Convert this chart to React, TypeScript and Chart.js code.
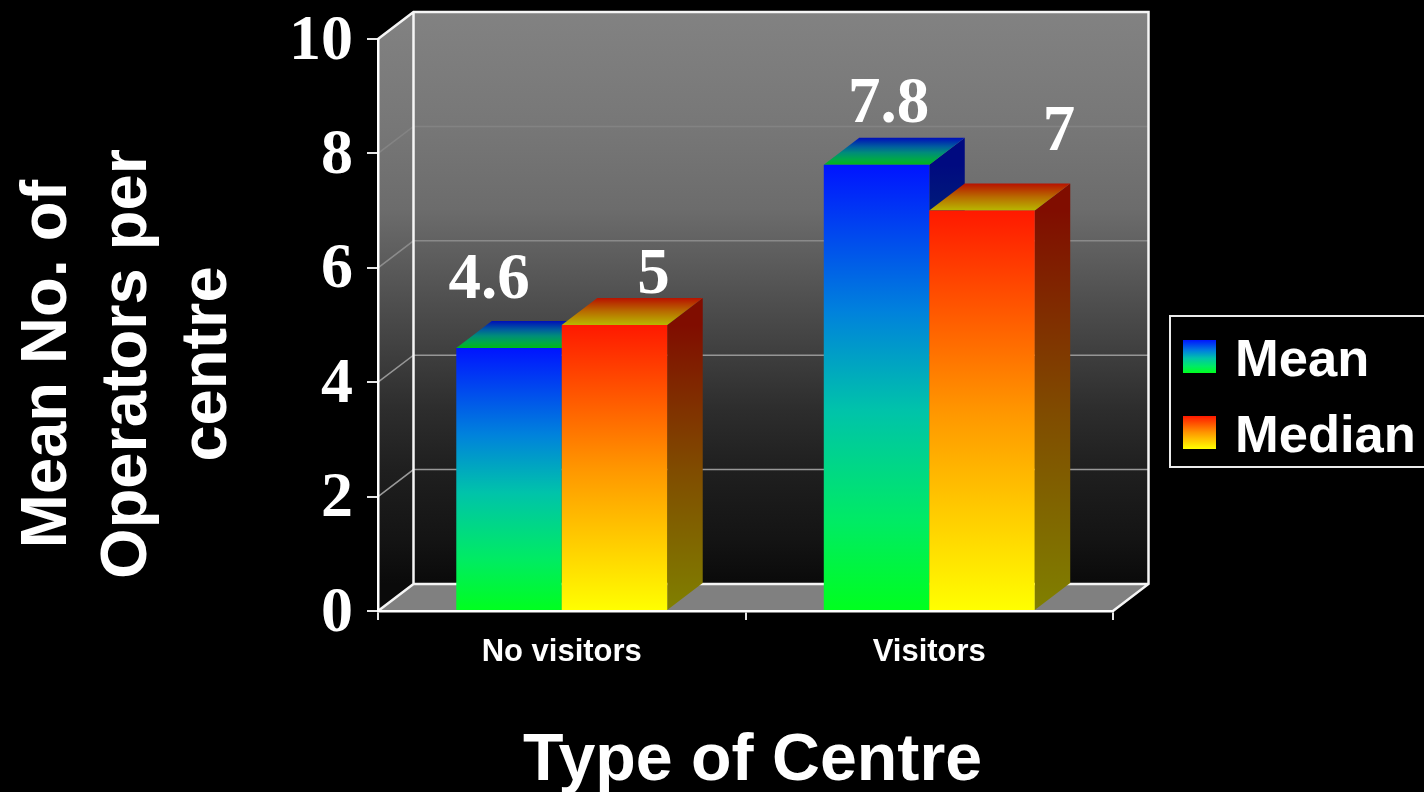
import React, { useEffect, useRef } from "react";
import { Chart, registerables } from "chart.js";

Chart.register(...registerables);

const categories = ["No visitors", "Visitors"];
const meanValues = [4.6, 7.8];
const medianValues = [5, 7];
const yTitleLines = ["Mean No. of", "Operators per", "centre"];
const xTitle = "Type of Centre";

const SANS = '"Liberation Sans", Arial, sans-serif';
const SERIF = '"Liberation Serif", "Times New Roman", serif';
const DX = 35.5;
const DY = 27;

// Hand-placed offset of each value label from its bar: [dx from bar centre, dy from bar top]
const labelOffsets = [
  [[-20, -50], [39, -32]],
  [[12, -43], [77, -61]],
];

type Stops = [number, number, number, number][];
const meanStops: Stops = [
  [0, 0, 20, 255],
  [0.33, 0, 130, 220],
  [0.55, 0, 195, 170],
  [0.8, 0, 235, 100],
  [1, 0, 255, 30],
];
const medianStops: Stops = [
  [0, 255, 25, 0],
  [0.5, 255, 150, 0],
  [1, 255, 255, 0],
];
// Back wall shade down its height: [fraction, grey]
const wallStops: [number, number][] = [
  [0, 130],
  [0.2, 119],
  [0.345, 108],
  [0.5, 80],
  [0.6, 62],
  [0.695, 45],
  [0.8, 31],
  [0.92, 20],
  [1, 10],
];
const rgb = (r: number, g: number, b: number, k = 1) =>
  `rgb(${Math.round(r * k)},${Math.round(g * k)},${Math.round(b * k)})`;

function vGrad(ctx: CanvasRenderingContext2D, y0: number, y1: number, stops: Stops, k = 1) {
  const g = ctx.createLinearGradient(0, y0, 0, y1);
  stops.forEach(([p, r, gr, b]) => g.addColorStop(p, rgb(r, gr, b, k)));
  return g;
}

function barFill(stops: Stops) {
  return (c: any) => {
    const { chart, raw } = c;
    const y = chart.scales.y;
    const fallback = rgb(stops[0][1], stops[0][2], stops[0][3]);
    if (!y || raw == null) return fallback;
    const p0 = y.getPixelForValue(raw);
    const p1 = y.getPixelForValue(0);
    if (!Number.isFinite(p0) || !Number.isFinite(p1)) return fallback;
    return vGrad(chart.ctx, p0, p1, stops);
  };
}

const stopsByDataset = [meanStops, medianStops];

function drawFaces(chart: any, index: number) {
  const { ctx } = chart;
  const stops = stopsByDataset[index];
  chart.getDatasetMeta(index).data.forEach((bar: any) => {
    const { x, y, base, width } = bar.getProps(["x", "y", "base", "width"], true);
    const L = x - width / 2;
    const R = x + width / 2;
    ctx.fillStyle = vGrad(ctx, y, base, stops, 0.5);
    ctx.beginPath();
    ctx.moveTo(R, y);
    ctx.lineTo(R + DX, y - DY);
    ctx.lineTo(R + DX, base - DY);
    ctx.lineTo(R, base);
    ctx.closePath();
    ctx.fill();
    ctx.fillStyle = vGrad(ctx, y - DY, y, stops, 0.72);
    ctx.beginPath();
    ctx.moveTo(L, y);
    ctx.lineTo(L + DX, y - DY);
    ctx.lineTo(R + DX, y - DY);
    ctx.lineTo(R, y);
    ctx.closePath();
    ctx.fill();
  });
}

const scene = {
  id: "scene",
  beforeDraw(chart: any) {
    const { ctx, chartArea: a, scales } = chart;
    const { left: l, right: r, top: t, bottom: b } = a;
    ctx.save();
    ctx.fillStyle = "#000";
    ctx.fillRect(0, 0, chart.width, chart.height);

    const wall = ctx.createLinearGradient(0, t - DY, 0, b - DY);
    wallStops.forEach(([p, v]) => wall.addColorStop(p, rgb(v, v, v)));
    ctx.fillStyle = wall;
    ctx.beginPath();
    ctx.moveTo(l, t);
    ctx.lineTo(l + DX, t - DY);
    ctx.lineTo(r + DX, t - DY);
    ctx.lineTo(r + DX, b - DY);
    ctx.lineTo(l + DX, b - DY);
    ctx.lineTo(l, b);
    ctx.closePath();
    ctx.fill();

    ctx.fillStyle = "rgb(128,128,128)";
    ctx.beginPath();
    ctx.moveTo(l, b);
    ctx.lineTo(l + DX, b - DY);
    ctx.lineTo(r + DX, b - DY);
    ctx.lineTo(r, b);
    ctx.closePath();
    ctx.fill();

    const gridStroke = ctx.createLinearGradient(0, t, 0, b);
    gridStroke.addColorStop(0, "rgb(128,128,128)");
    gridStroke.addColorStop(0.3, "rgb(134,134,134)");
    gridStroke.addColorStop(0.55, "rgb(150,150,150)");
    gridStroke.addColorStop(1, "rgb(155,155,155)");
    ctx.strokeStyle = gridStroke;
    ctx.lineWidth = 1.5;
    scales.y.ticks.forEach((tk: any) => {
      if (tk.value === 0 || tk.value === 10) return;
      const y = scales.y.getPixelForValue(tk.value);
      ctx.beginPath();
      ctx.moveTo(l, y);
      ctx.lineTo(l + DX, y - DY);
      ctx.lineTo(r + DX, y - DY);
      ctx.stroke();
    });

    ctx.strokeStyle = "rgb(245,245,245)";
    ctx.lineWidth = 2.5;
    ctx.beginPath();
    ctx.moveTo(l, t);
    ctx.lineTo(l + DX, t - DY);
    ctx.lineTo(r + DX, t - DY);
    ctx.lineTo(r + DX, b - DY);
    ctx.lineTo(r, b);
    ctx.moveTo(l + DX, t - DY);
    ctx.lineTo(l + DX, b - DY);
    ctx.lineTo(r + DX, b - DY);
    ctx.moveTo(l + DX, b - DY);
    ctx.lineTo(l, b);
    ctx.stroke();
    ctx.restore();
  },
  beforeDatasetsDraw(chart: any) {
    const { ctx } = chart;
    ctx.save();
    // Mean first, Median over it, each with its own 3D faces behind its front
    chart.data.datasets.forEach((_: any, i: number) => {
      drawFaces(chart, i);
      chart.getDatasetMeta(i).controller.draw();
    });

    ctx.fillStyle = "#fff";
    ctx.textBaseline = "alphabetic";
    ctx.textAlign = "center";
    ctx.font = `bold 65px ${SERIF}`;
    chart.data.datasets.forEach((ds: any, i: number) => {
      chart.getDatasetMeta(i).data.forEach((bar: any, j: number) => {
        const [ox, oy] = labelOffsets[j][i];
        ctx.fillText(String(ds.data[j]), bar.x + ox, bar.y + oy);
      });
    });

    ctx.font = `bold 66.3px ${SANS}`;
    ctx.fillText(xTitle, 752.5, 780);
    ctx.font = `bold 65px ${SANS}`;
    yTitleLines.forEach((line, i) => {
      ctx.save();
      ctx.translate(66 + i * 80, 364);
      ctx.rotate(-Math.PI / 2);
      ctx.fillText(line, 0, 0);
      ctx.restore();
    });

    ctx.strokeStyle = "rgb(235,235,235)";
    ctx.lineWidth = 2;
    ctx.strokeRect(1170, 316, 300, 151);
    ctx.textAlign = "left";
    ctx.font = `bold 52.5px ${SANS}`;
    chart.data.datasets.forEach((ds: any, i: number) => {
      const top = 340 + i * 76;
      ctx.fillStyle = vGrad(ctx, top, top + 33, stopsByDataset[i]);
      ctx.fillRect(1183, top, 33, 33);
      ctx.fillStyle = "#fff";
      ctx.fillText(ds.label, 1235, top + 36);
    });
    ctx.restore();
    return false;
  },
};

export default function App() {
  const ref = useRef<HTMLCanvasElement>(null);
  useEffect(() => {
    document.body.style.margin = "0";
    document.body.style.background = "#000";
    const chart = new Chart(ref.current!, {
      type: "bar",
      data: {
        labels: categories,
        datasets: [
          { label: "Mean", data: meanValues, backgroundColor: barFill(meanStops) },
          { label: "Median", data: medianValues, backgroundColor: barFill(medianStops) },
        ],
      },
      options: {
        responsive: false,
        animation: false,
        devicePixelRatio: 1,
        layout: { padding: { left: 0, top: 39, right: 311, bottom: 0 } },
        plugins: { legend: { display: false }, tooltip: { enabled: false } },
        datasets: { bar: { categoryPercentage: 0.574, barPercentage: 1, borderWidth: 0 } },
        scales: {
          x: {
            afterFit: (s: any) => { s.height = 181; },
            border: { color: "#fff", width: 2.5 },
            grid: { drawOnChartArea: false, color: "rgb(230,230,230)", lineWidth: 2, tickLength: 9 },
            ticks: {
              color: "#fff",
              font: { family: SANS, weight: "bold", size: 31 },
              padding: 14,
              maxRotation: 0,
            },
          },
          y: {
            min: 0,
            max: 10,
            afterFit: (s: any) => {
              s.width = 378;
              s.paddingTop = 0;
              s.paddingBottom = 0;
            },
            border: { color: "#fff", width: 2.5 },
            grid: { drawOnChartArea: false, color: "rgb(230,230,230)", lineWidth: 2, tickLength: 11 },
            ticks: {
              stepSize: 2,
              color: "#fff",
              font: { family: SERIF, weight: "bold", size: 64, lineHeight: 1 },
              padding: 14,
              labelOffset: 3,
            },
          },
        },
      },
      plugins: [scene],
    } as any);
    return () => chart.destroy();
  }, []);
  return <canvas ref={ref} width={1424} height={792} style={{ display: "block" }} />;
}
